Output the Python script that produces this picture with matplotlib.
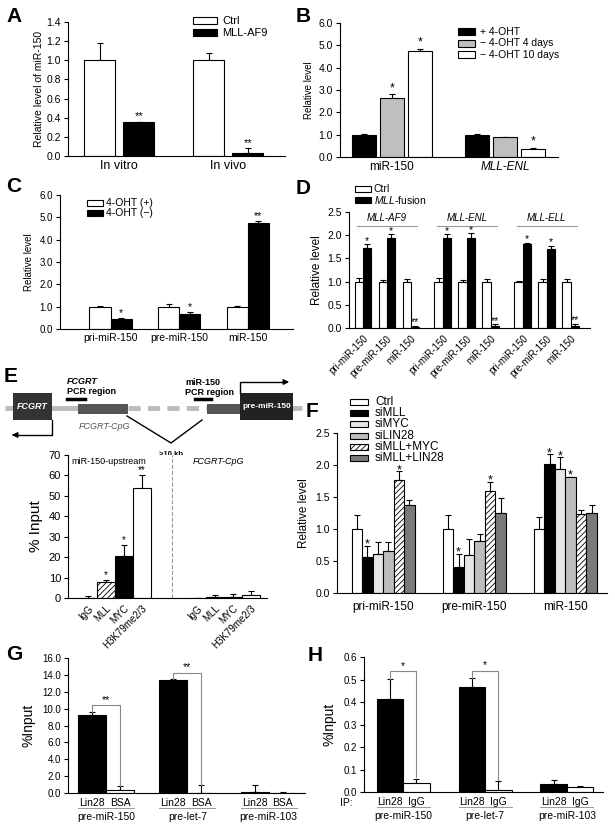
import numpy as np
import matplotlib.pyplot as plt
from matplotlib.patches import Rectangle

plt.rcParams['font.family'] = ['Liberation Sans', 'DejaVu Sans']
plt.rcParams['mathtext.fontset'] = 'custom'
plt.rcParams['mathtext.rm'] = 'Liberation Sans'
plt.rcParams['mathtext.it'] = 'Liberation Sans:italic'
plt.rcParams['hatch.linewidth'] = 0.6

# ---------------------------
# data
# ---------------------------
# A
a_groups = ['In vitro', 'In vivo']
a_ctrl = [1.0, 1.0]
a_ctrl_err = [0.18, 0.08]
a_mll = [0.35, 0.03]
a_mll_err = [0.01, 0.055]
a_stars = ['**', '**']

# B
b_groups = ['miR-150', 'MLL-ENL']
b_plus = [1.0, 1.0]
b_plus_err = [0.03, 0.01]
b_4d = [2.65, 0.88]
b_4d_err = [0.16, 0.03]
b_10d = [4.75, 0.35]
b_10d_err = [0.10, 0.06]
b_4d_stars = ['*', '']
b_10d_stars = ['*', '*']

# C
c_groups = ['pri-miR-150', 'pre-miR-150', 'miR-150']
c_plus = [1.0, 1.0, 1.0]
c_plus_err = [0.03, 0.10, 0.03]
c_minus = [0.47, 0.68, 4.75]
c_minus_err = [0.02, 0.07, 0.10]
c_stars = ['*', '*', '**']

# D
d_fusions = ['MLL-AF9', 'MLL-ENL', 'MLL-ELL']
d_rna = ['pri-miR-150', 'pre-miR-150', 'miR-150']
d_ctrl = [1.0, 1.0, 1.0, 1.0, 1.0, 1.0, 1.0, 1.0, 1.0]
d_ctrl_err = [0.07, 0.04, 0.05, 0.07, 0.04, 0.05, 0.02, 0.06, 0.05]
d_fusion = [1.73, 1.95, 0.03, 1.95, 1.95, 0.04, 1.81, 1.71, 0.04]
d_fusion_err = [0.07, 0.07, 0.01, 0.07, 0.09, 0.04, 0.03, 0.06, 0.05]
d_stars = ['*', '*', '**'] * 3

# E
e_targets = ['IgG', 'MLL', 'MYC', 'H3K79me2/3']
e_upstream = [0.0, 7.7, 20.5, 54.0]
e_upstream_err = [1.2, 1.0, 5.5, 6.0]
e_cpg = [0.1, 0.5, 0.5, 1.3]
e_cpg_err = [0.0, 1.2, 1.4, 2.3]
e_stars = ['', '*', '*', '**']

# F
f_groups = ['pri-miR-150', 'pre-miR-150', 'miR-150']
f_series = ['Ctrl', 'siMLL', 'siMYC', 'siLIN28', 'siMLL+MYC', 'siMLL+LIN28']
f_vals = [[1.00, 1.00, 1.00],
          [0.57, 0.40, 2.01],
          [0.61, 0.59, 1.94],
          [0.65, 0.81, 1.81],
          [1.76, 1.60, 1.23],
          [1.38, 1.25, 1.25]]
f_errs = [[0.22, 0.22, 0.18],
          [0.17, 0.21, 0.16],
          [0.19, 0.25, 0.18],
          [0.15, 0.11, 0.01],
          [0.14, 0.14, 0.07],
          [0.07, 0.23, 0.12]]
f_stars = [['', '', ''],
           ['*', '*', '*'],
           ['', '', '*'],
           ['', '', '*'],
           ['*', '*', ''],
           ['', '', '']]

# G
g_groups = ['pre-miR-150', 'pre-let-7', 'pre-miR-103']
g_lin28 = [9.3, 13.4, 0.1]
g_lin28_err = [0.3, 0.08, 0.9]
g_bsa = [0.4, 0.0, 0.05]
g_bsa_err = [0.45, 0.9, 0.08]
g_sig = ['**', '**', '']

# H
h_groups = ['pre-miR-150', 'pre-let-7', 'pre-miR-103']
h_lin28 = [0.415, 0.465, 0.035]
h_lin28_err = [0.088, 0.04, 0.018]
h_igg = [0.042, 0.007, 0.022]
h_igg_err = [0.018, 0.04, 0.004]
h_sig = ['*', '*', '']

# ---------------------------
# helpers
# ---------------------------
W, H = 615, 830
fig = plt.figure(figsize=(W / 100, H / 100), dpi=100)


def add_ax(l, t, r, b):
    return fig.add_axes([l / W, 1 - b / H, (r - l) / W, (b - t) / H])


def style(ax, fs=7):
    for s in ['top', 'right']:
        ax.spines[s].set_visible(False)
    for s in ['left', 'bottom']:
        ax.spines[s].set_linewidth(0.8)
    ax.tick_params(axis='y', direction='out', length=3, width=0.8, labelsize=fs, pad=2)
    ax.tick_params(axis='x', length=0, labelsize=fs, pad=3)


def yticks(ax, top, step, fmt='{:.1f}', fs=7):
    t = np.arange(0, top + step / 2, step)
    ax.set_yticks(t, [fmt.format(v) for v in t], fontsize=fs)
    ax.set_ylim(0, top)


def bars(ax, x, h, err, w, fc, hatch=None, stars=None, fs=7, off=0):
    n = len(h)
    fcs = fc if isinstance(fc, list) else [fc] * n
    hts = hatch if isinstance(hatch, list) else [hatch] * n
    for xi, hi, c, ht in zip(x, h, fcs, hts):
        ax.bar(xi, hi, w, color=c, edgecolor='black', linewidth=0.8, hatch=ht, zorder=2)
    ax.errorbar(x, h, yerr=[np.zeros(n), err], fmt='none', ecolor='black',
                elinewidth=0.8, capsize=2.5, capthick=0.8, zorder=1)
    if stars:
        for xi, hi, ei, s in zip(x, h, err, stars):
            if s:
                ax.annotate(s, (xi, hi + ei), xytext=(0, off), textcoords='offset points',
                            ha='center', va='bottom', fontsize=fs)


def legend_px(entries, x, y, dy, bw, bh, tx, fs):
    for i, (lab, fc, ht) in enumerate(entries):
        yc = y + i * dy
        fig.patches.append(Rectangle((x / W, 1 - (yc + bh / 2) / H), bw / W, bh / H,
                                     transform=fig.transFigure, facecolor=fc,
                                     edgecolor='black', lw=0.8, hatch=ht))
        fig.text(tx / W, 1 - yc / H, lab, fontsize=fs, va='center', ha='left')


def letter(s, x, y):
    fig.text(x / W, 1 - y / H, s, fontsize=15, fontweight='bold', va='center', ha='left')


# ---------------------------
# A
# ---------------------------
ax = add_ax(68, 22, 285, 156)
style(ax, fs=7.5)
x = np.arange(len(a_groups))
bars(ax, x - 0.18, a_ctrl, a_ctrl_err, 0.285, 'white')
bars(ax, x + 0.18, a_mll, a_mll_err, 0.285, 'black', stars=a_stars, fs=8)
ax.set_xlim(-0.47, 1.52)
yticks(ax, 1.4, 0.2, fs=7.5)
ax.set_xticks(x, a_groups, fontsize=9)
ax.set_ylabel('Relative level of miR-150', fontsize=7.5, labelpad=2)
legend_px([('Ctrl', 'white', None), ('MLL-AF9', 'black', None)], 193, 21, 12, 24, 7, 222, 8)
letter('A', 6, 16)

# ---------------------------
# B
# ---------------------------
ax = add_ax(340, 23, 558, 157)
style(ax, fs=7.5)
x = np.arange(len(b_groups))
bars(ax, x - 0.25, b_plus, b_plus_err, 0.21, 'black')
bars(ax, x, b_4d, b_4d_err, 0.21, '#bfbfbf', stars=b_4d_stars, fs=9)
bars(ax, x + 0.25, b_10d, b_10d_err, 0.21, 'white', stars=b_10d_stars, fs=9)
ax.set_xlim(-0.46, 1.47)
yticks(ax, 6, 1, fs=7.5)
ax.set_xticks(x, b_groups, fontsize=8.5)
ax.get_xticklabels()[1].set_style('italic')
ax.set_ylabel('Relative level', fontsize=7, labelpad=3)
legend_px([('+ 4-OHT', 'black', None), ('\u2212 4-OHT 4 days', '#bfbfbf', None),
           ('\u2212 4-OHT 10 days', 'white', None)], 458, 32, 11.5, 17, 7, 480, 7.5)
letter('B', 296, 16)

# ---------------------------
# C
# ---------------------------
ax = add_ax(60, 195, 293, 329)
style(ax, fs=7)
x = np.arange(len(c_groups))
bars(ax, x - 0.155, c_plus, c_plus_err, 0.31, 'white')
bars(ax, x + 0.155, c_minus, c_minus_err, 0.31, 'black', stars=c_stars, fs=7.5)
ax.set_xlim(-0.74, 2.66)
yticks(ax, 6, 1, fs=7)
ax.set_xticks(x, c_groups, fontsize=7.5)
ax.set_ylabel('Relative level', fontsize=7, labelpad=4)
legend_px([('4-OHT (+)', 'white', None), ('4-OHT (\u2212)', 'black', None)], 87, 203, 10, 16, 6, 106, 7.5)
letter('C', 6, 187)

# ---------------------------
# D
# ---------------------------
ax = add_ax(349, 212, 590, 328)
style(ax, fs=7.5)
x = np.concatenate([np.arange(3) + g * 3.33 for g in range(len(d_fusions))])
bars(ax, x - 0.175, d_ctrl, d_ctrl_err, 0.35, 'white')
bars(ax, x + 0.175, d_fusion, d_fusion_err, 0.35, 'black', stars=d_stars, fs=7.5, off=-1)
ax.set_xlim(-0.58, 9.46)
yticks(ax, 2.5, 0.5, fs=7.5)
ax.set_xticks(x, d_rna * 3, fontsize=7, rotation=45, ha='right', va='top',
              rotation_mode='anchor')
ax.tick_params(axis='x', pad=4)
ax.set_ylabel('Relative level', fontsize=8.5, labelpad=3)
for g, name in enumerate(d_fusions):
    c = g * 3.33 + 1
    ax.text(c, 2.37, name, style='italic', ha='center', va='center', fontsize=7)
    ax.plot([c - 1.25, c + 1.25], [2.2, 2.2], color='#999999', lw=0.8, clip_on=False)
legend_px([('Ctrl', 'white', None), (r'$\mathit{MLL}$-fusion', 'black', None)],
          355, 189, 11, 16, 6, 374, 7.5)
letter('D', 296, 189)

# ---------------------------
# E  (diagram)
# ---------------------------
dax = add_ax(0, 360, 310, 462)
dax.set_xlim(0, 310)
dax.set_ylim(462, 360)
dax.axis('off')
dax.plot([5, 80], [408, 408], color='#bbbbbb', lw=3.5, solid_capstyle='butt', zorder=0)
dax.plot([128, 207], [408, 408], color='#bbbbbb', lw=3.5, ls=(0, (2.5, 1.5)), zorder=0)
dax.plot([207, 302], [408, 408], color='#bbbbbb', lw=3.5, solid_capstyle='butt', zorder=0)
dax.add_patch(Rectangle((13, 393), 39, 27, facecolor='#333333', edgecolor='none', zorder=1))
dax.text(32.5, 406.5, 'FCGRT', color='white', fontsize=6.5, fontweight='bold',
         style='italic', ha='center', va='center', zorder=3)
dax.add_patch(Rectangle((78, 404), 50, 10, facecolor='#555555', edgecolor='none', zorder=1))
dax.add_patch(Rectangle((207, 404), 33, 10, facecolor='#555555', edgecolor='none', zorder=1))
dax.add_patch(Rectangle((240, 393), 53, 27, facecolor='#222222', edgecolor='none', zorder=1))
dax.text(266.5, 406.5, 'pre-miR-150', color='white', fontsize=6, fontweight='bold',
         ha='center', va='center', zorder=3)
dax.plot([52, 52, 15], [420, 435, 435], color='black', lw=1)
dax.annotate('', xy=(9, 435), xytext=(16, 435),
             arrowprops=dict(arrowstyle='-|>', color='black', lw=1, mutation_scale=8))
dax.plot([240, 240, 284], [393, 382, 382], color='black', lw=1)
dax.annotate('', xy=(292, 382), xytext=(283, 382),
             arrowprops=dict(arrowstyle='-|>', color='black', lw=1, mutation_scale=8))
dax.plot([127, 171, 202], [416, 443, 420], color='black', lw=1)
dax.text(171, 454, '>10 kb', fontsize=5.5, fontweight='bold', ha='center', va='center')
dax.text(67, 381, 'FCGRT', fontsize=6.5, fontweight='bold', style='italic', ha='left', va='center')
dax.text(67, 391, 'PCR region', fontsize=6.5, fontweight='bold', ha='left', va='center')
dax.plot([67, 85], [399, 399], color='black', lw=2.5)
dax.text(185, 382, 'miR-150', fontsize=6.5, fontweight='bold', ha='left', va='center')
dax.text(185, 392, 'PCR region', fontsize=6.5, fontweight='bold', ha='left', va='center')
dax.plot([195, 211], [399, 399], color='black', lw=2.5)
dax.text(79, 426, 'FCGRT-CpG', fontsize=6.5, style='italic', color='#555555',
         ha='left', va='center')
letter('E', 4, 376)

# ---------------------------
# E  (chart)
# ---------------------------
ax = add_ax(68, 455, 267, 598)
style(ax, fs=8)
x1 = np.arange(len(e_targets))
x2 = x1 + 6.05
e_fc = ['white', 'white', 'black', 'white']
e_hatch = [None, '//////', None, None]
bars(ax, x1, e_upstream, e_upstream_err, 1.0, e_fc, hatch=e_hatch, stars=e_stars, fs=7)
bars(ax, x2, e_cpg, e_cpg_err, 1.0, e_fc, hatch=e_hatch)
ax.set_xlim(-1.1, 9.94)
yticks(ax, 70, 10, fmt='{:.0f}', fs=8)
ax.set_xticks(np.concatenate([x1, x2]), e_targets * 2, fontsize=7, rotation=45,
              ha='right', va='top', rotation_mode='anchor')
ax.tick_params(axis='x', pad=4)
ax.axvline(4.67, color='#999999', ls='--', lw=0.8)
ax.text(-0.9, 67, 'miR-150-upstream', fontsize=6.5, ha='left', va='center')
ax.text(5.83, 67, 'FCGRT-CpG', fontsize=6.5, style='italic', ha='left', va='center')
ax.set_ylabel('% Input', fontsize=11, labelpad=4)

# ---------------------------
# F
# ---------------------------
ax = add_ax(337, 433, 607, 593)
style(ax, fs=7.5)
gx = np.arange(len(f_groups)) * 8.67
f_fc = ['white', 'black', '#e6e6e6', '#bdbdbd', 'white', '#7a7a7a']
f_hatch = [None, None, None, None, '//////', None]
for i in range(len(f_series)):
    bars(ax, gx + i, f_vals[i], f_errs[i], 1.0, f_fc[i], hatch=f_hatch[i],
         stars=f_stars[i], fs=9, off=-3.5)
ax.set_xlim(-1.9, 23.8)
yticks(ax, 2.5, 0.5, fs=7.5)
ax.set_xticks(gx + 2.5, f_groups, fontsize=8.5)
ax.tick_params(axis='x', pad=6)
ax.set_ylabel('Relative level', fontsize=8.5, labelpad=4)
legend_px(list(zip(f_series, f_fc, f_hatch)), 350, 402, 11.2, 18, 6, 375, 8.5)
letter('F', 306, 411)


# ---------------------------
# G / H
# ---------------------------
def rip_panel(ax, groups, lin, lin_err, ctrl, ctrl_err, sig, ctrl_name, gap, pk, dn):
    x = np.arange(len(groups)) * gap
    bars(ax, x, lin, lin_err, 1.0, 'black')
    bars(ax, x + 1, ctrl, ctrl_err, 1.0, 'white')
    ax.set_xticks([])
    tr = ax.get_xaxis_transform()
    for i, g in enumerate(groups):
        ax.text(x[i], -0.074, 'Lin28', transform=tr, ha='center', va='center', fontsize=7.5)
        ax.text(x[i] + 1, -0.074, ctrl_name, transform=tr, ha='center', va='center', fontsize=7.5)
        ax.plot([x[i] - 0.5, x[i] + 1.5], [-0.11, -0.11], transform=tr, color='#999999',
                lw=0.7, clip_on=False)
        ax.text(x[i] + 0.5, -0.178, g, transform=tr, ha='center', va='center', fontsize=7.5)
        if sig[i]:
            top_l = lin[i] + lin_err[i]
            top_r = ctrl[i] + ctrl_err[i] + dn
            peak = top_l + pk
            ax.plot([x[i], x[i], x[i] + 1, x[i] + 1], [top_l, peak, peak, top_r],
                    color='#888888', lw=0.8)
            ax.annotate(sig[i], (x[i] + 0.5, peak), xytext=(0, 0), textcoords='offset points',
                        ha='center', va='bottom', fontsize=7.5)


ax = add_ax(68, 658, 305, 793)
style(ax, fs=7)
rip_panel(ax, g_groups, g_lin28, g_lin28_err, g_bsa, g_bsa_err, g_sig, 'BSA', 2.9, 0.8, 0.0)
ax.set_xlim(-0.86, 7.6)
yticks(ax, 16, 2, fs=7)
ax.set_ylabel('%Input', fontsize=10, labelpad=5)
letter('G', 6, 654)

ax = add_ax(364, 657, 603, 792)
style(ax, fs=7)
rip_panel(ax, h_groups, h_lin28, h_lin28_err, h_igg, h_igg_err, h_sig, 'IgG', 3.09, 0.035, 0.005)
ax.set_xlim(-0.98, 8.04)
yticks(ax, 0.6, 0.1, fs=7)
ax.set_ylabel('%Input', fontsize=10, labelpad=5)
fig.text(340 / W, 1 - 803 / H, 'IP:', fontsize=7.5, ha='left', va='center')
letter('H', 308, 655)

fig.savefig('out.png', dpi=100)
